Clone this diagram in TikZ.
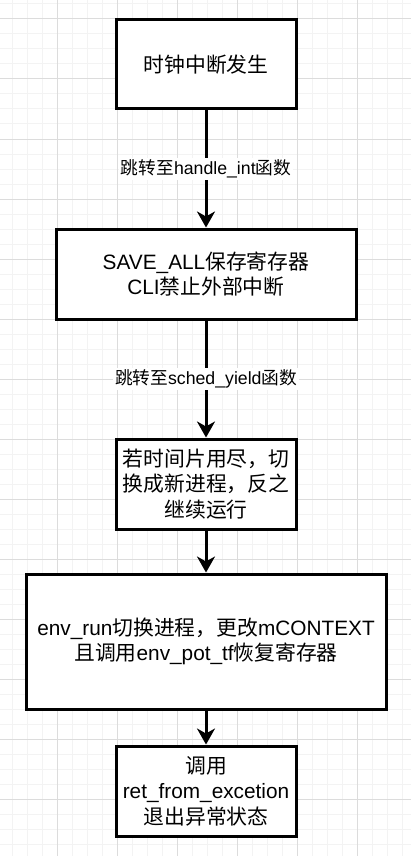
\documentclass[tikz,border=0pt]{standalone}
\usepackage{fontspec}
\setmainfont{Liberation Sans}
\newfontfamily\cjk{Noto Sans CJK SC}
\newcommand\zh[1]{{\cjk #1}}
\usetikzlibrary{arrows.meta}
\definecolor{gridminor}{HTML}{F3F3F3}
\definecolor{gridmajor}{HTML}{DCDCDC}
\tikzset{
  stepbox/.style={draw=black, line width=3pt, fill=white, align=center, inner sep=2pt,
    font=\fontsize{20.8}{25.5}\selectfont},
  arr/.style={line width=3pt, -{Stealth[length=16pt,width=18pt,inset=5pt]}},
  lbl/.style={fill=white, inner sep=2pt, font=\fontsize{17.7}{21}\selectfont},
  minorline/.style={gridminor, line width=1pt},
  majorline/.style={gridmajor, line width=1pt}
}
\begin{document}
\begin{tikzpicture}[x=1pt,y=-1pt]
\useasboundingbox (0,0) rectangle (411,856);
\fill[white] (0,0) rectangle (411,856);
\foreach \x in {12,27,...,402} \draw[minorline] (\x,0) -- (\x,856);
\foreach \y in {4,19,...,850} \draw[minorline] (0,\y) -- (411,\y);
\foreach \x in {57,117,...,357} \draw[majorline] (\x,0) -- (\x,856);
\foreach \y in {19,79,...,799} \draw[majorline] (0,\y) -- (411,\y);

\node[stepbox, minimum width=180pt, minimum height=89pt] (b1) at (206,64.5) {\zh{时钟中断发生}};
\node[stepbox, minimum width=300pt, minimum height=90pt] (b2) at (206,274) {SAVE\_ALL\zh{保存寄存器}\\CLI\zh{禁止外部中断}};
\node[stepbox, minimum width=180pt, minimum height=90pt] (b3) at (206,484) {\zh{若时间片用尽，切}\\\zh{换成新进程，反之}\\\zh{继续运行}};
\node[stepbox, minimum width=360pt, minimum height=135pt] (b4) at (206,641.5) {env\_run\zh{切换进程，更改}mCONTEXT\\\zh{且调用}env\_pot\_tf\zh{恢复寄存器}};
\node[stepbox, minimum width=180pt, minimum height=90pt] (b5) at (206,791) {\zh{调用}\\ret\_from\_excetion\\\zh{退出异常状态}};

\draw[arr] (b1) -- node[lbl] {\zh{跳转至}handle\_int\zh{函数}} (b2);
\draw[arr] (b2) -- node[lbl] {\zh{跳转至}sched\_yield\zh{函数}} (b3);
\draw[arr] (b3) -- (b4);
\draw[arr] (b4) -- (b5);
\end{tikzpicture}
\end{document}
